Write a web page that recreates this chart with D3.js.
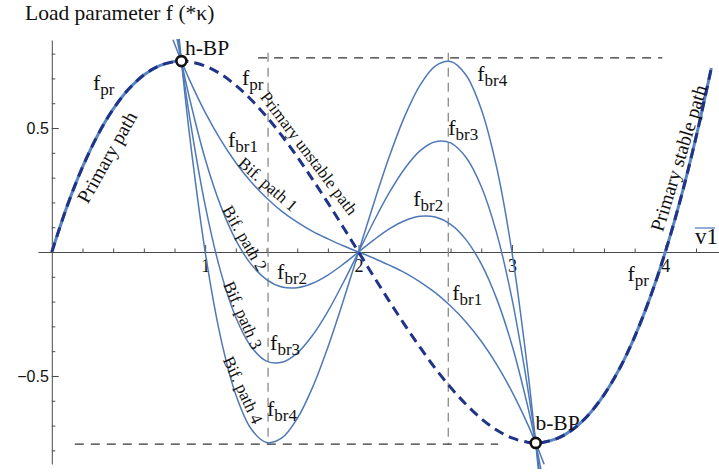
<!DOCTYPE html>
<html>
<head>
<meta charset="utf-8">
<script src="https://cdn.jsdelivr.net/npm/d3@7"></script>
<style>
  body { margin: 0; background: #fff; }
  svg { display: block; }
</style>
</head>
<body>
<svg id="chart" width="719" height="472"></svg>
<script>
// Primary equilibrium path f_pr(v1)
const primaryV = [0, 0.1, 0.2, 0.3, 0.4, 0.5, 0.6, 0.7, 0.8, 0.845, 0.9, 1.0, 1.1, 1.2, 1.3, 1.4, 1.5, 1.6, 1.7, 1.8, 1.9, 2.0,
  2.1, 2.2, 2.3, 2.4, 2.5, 2.6, 2.7, 2.8, 2.9, 3.0, 3.1, 3.155, 3.2, 3.3, 3.4, 3.5, 3.6, 3.7, 3.8, 3.9, 4.0, 4.1, 4.2, 4.3];
const primaryF = [0, 0.185, 0.342, 0.472, 0.576, 0.656, 0.714, 0.751, 0.768, 0.770, 0.767, 0.750, 0.718, 0.672, 0.614, 0.546, 0.469, 0.384, 0.293, 0.198, 0.100, 0,
  -0.100, -0.198, -0.293, -0.384, -0.469, -0.546, -0.614, -0.672, -0.718, -0.750, -0.767, -0.770, -0.768, -0.751, -0.714, -0.656, -0.576, -0.472, -0.342, -0.185, 0, 0.215, 0.462, 0.742];

// Bifurcated paths f_br1 .. f_br4, sampled on a shared v1 grid
const branchV = [0.79, 0.845, 0.9, 1.0, 1.1, 1.2, 1.3, 1.4, 1.5, 1.6, 1.7, 1.8, 1.9, 2.0,
  2.1, 2.2, 2.3, 2.4, 2.5, 2.6, 2.7, 2.8, 2.9, 3.0, 3.1, 3.155, 3.21];
const fbr1 = [0.856, 0.770, 0.691, 0.563, 0.453, 0.360, 0.282, 0.218, 0.164, 0.120, 0.083, 0.053, 0.025, 0,
  -0.025, -0.053, -0.083, -0.120, -0.164, -0.218, -0.282, -0.360, -0.453, -0.563, -0.691, -0.770, -0.856];
const fbr2 = [0.945, 0.770, 0.615, 0.375, 0.188, 0.048, -0.050, -0.111, -0.141, -0.144, -0.126, -0.093, -0.049, 0,
  0.049, 0.093, 0.126, 0.144, 0.141, 0.111, 0.050, -0.048, -0.188, -0.375, -0.615, -0.770, -0.945];
const fbr3 = [1.034, 0.770, 0.538, 0.188, -0.077, -0.264, -0.382, -0.440, -0.445, -0.408, -0.336, -0.239, -0.124, 0,
  0.124, 0.239, 0.336, 0.408, 0.445, 0.440, 0.382, 0.264, 0.077, -0.188, -0.538, -0.770, -1.034];
const fbr4 = [1.123, 0.770, 0.462, 0, -0.342, -0.576, -0.714, -0.768, -0.750, -0.672, -0.546, -0.384, -0.198, 0,
  0.198, 0.384, 0.546, 0.672, 0.750, 0.768, 0.714, 0.576, 0.342, 0, -0.462, -0.770, -1.123];

// Bifurcation points
const hBP = [0.845, 0.770];
const bBP = [3.155, -0.770];

// Dashed guide lines
const guideV = [1.41, 2.585];
const guideF = [0.783, -0.775];
const topGuideSpan = [1.345, 3.98];
const bottomGuideSpan = [0.15, 2.91];

// Axis ticks
const xMajor = [1, 2, 3, 4];
const xMinor = [0.2, 0.4, 0.6, 0.8, 1.2, 1.4, 1.6, 1.8, 2.2, 2.4, 2.6, 2.8, 3.2, 3.4, 3.6, 3.8, 4.2];
const yMajor = [-0.5, 0.5];
const yMinor = [-0.8, -0.7, -0.6, -0.4, -0.3, -0.2, -0.1, 0.1, 0.2, 0.3, 0.4, 0.6, 0.7, 0.8];

const svg = d3.select("#chart");
const W = 719, H = 472;

const x = d3.scaleLinear().domain([-0.09, 4.35]).range([38, 719]);
const y = d3.scaleLinear().domain([-0.855, 0.855]).range([464, 40]);

const SERIF = "'Liberation Serif', 'Times New Roman', serif";
const SANS = "'Liberation Sans', Arial, sans-serif";
const BLUE = "#4f79b6";
const NAVY = "#1f3488";
const AXIS = "#4a4a4a";

svg.append("defs").append("clipPath").attr("id", "plot")
  .append("rect").attr("x", 38).attr("y", 39).attr("width", W - 38).attr("height", 430);

// ---- axes ----
const xAxisG = svg.append("g").attr("transform", `translate(0,${y(0)})`);
xAxisG.call(d3.axisBottom(x).tickValues(xMajor).tickSizeInner(-7).tickSizeOuter(0).tickPadding(7).tickFormat(d3.format("d")));
const xMinorG = svg.append("g").attr("transform", `translate(0,${y(0)})`);
xMinorG.call(d3.axisBottom(x).tickValues(xMinor).tickSizeInner(-3.5).tickSizeOuter(0).tickFormat(""));
xMinorG.select(".domain").remove();

const yAxisG = svg.append("g").attr("transform", `translate(${x(0)},0)`);
yAxisG.call(d3.axisLeft(y).tickValues(yMajor).tickSizeInner(-7).tickSizeOuter(0).tickPadding(3).tickFormat(d3.format(".1f")));
const yMinorG = svg.append("g").attr("transform", `translate(${x(0)},0)`);
yMinorG.call(d3.axisLeft(y).tickValues(yMinor).tickSizeInner(-3.5).tickSizeOuter(0).tickFormat(""));
yMinorG.select(".domain").remove();

svg.selectAll(".domain, .tick line").attr("stroke", AXIS).attr("stroke-width", 1);
xAxisG.selectAll("text").attr("font-family", SERIF).attr("font-size", 18).attr("fill", "#111");
yAxisG.selectAll("text").attr("font-family", SANS).attr("font-size", 16).attr("fill", "#111");

// ---- dashed guide lines ----
const guides = svg.append("g");
guideV.forEach(v => {
  guides.append("line")
    .attr("x1", x(v)).attr("x2", x(v))
    .attr("y1", y(guideF[0]) - 5).attr("y2", y(guideF[1]))
    .attr("stroke", "#8a8a8a").attr("stroke-width", 1.3).attr("stroke-dasharray", "9,6");
});
guides.append("line")
  .attr("x1", x(topGuideSpan[0])).attr("x2", x(topGuideSpan[1]))
  .attr("y1", y(guideF[0])).attr("y2", y(guideF[0]))
  .attr("stroke", "#333").attr("stroke-width", 1.3).attr("stroke-dasharray", "9,7");
guides.append("line")
  .attr("x1", x(bottomGuideSpan[0])).attr("x2", x(bottomGuideSpan[1]))
  .attr("y1", y(guideF[1])).attr("y2", y(guideF[1]))
  .attr("stroke", "#333").attr("stroke-width", 1.3).attr("stroke-dasharray", "9,7");

// ---- curves ----
const line = d3.line().x(d => x(d[0])).y(d => y(d[1])).curve(d3.curveCatmullRom.alpha(0.5));
const plot = svg.append("g").attr("clip-path", "url(#plot)");

[fbr1, fbr2, fbr3, fbr4].forEach(vals => {
  plot.append("path")
    .datum(branchV.map((v, i) => [v, vals[i]]))
    .attr("d", line).attr("fill", "none")
    .attr("stroke", BLUE).attr("stroke-width", 1.5);
});

const primary = primaryV.map((v, i) => [v, primaryF[i]]);
const stableLeft = primary.filter(d => d[0] <= hBP[0]);
const stableRight = primary.filter(d => d[0] >= bBP[0]);
[stableLeft, stableRight].forEach(seg => {
  plot.append("path").datum(seg).attr("d", line).attr("fill", "none")
    .attr("stroke", "#5b85c2").attr("stroke-width", 3);
});
plot.append("path").datum(primary).attr("d", line).attr("fill", "none")
  .attr("stroke", NAVY).attr("stroke-width", 3).attr("stroke-dasharray", "10,6");

// bifurcation point markers
[hBP, bBP].forEach(p => {
  svg.append("circle").attr("cx", x(p[0])).attr("cy", y(p[1])).attr("r", 5)
    .attr("fill", "#fff").attr("stroke", "#111").attr("stroke-width", 2.6);
});

// ---- labels ----
const txt = svg.append("g").attr("font-family", SERIF).attr("fill", "#111");

txt.append("text").attr("x", 25).attr("y", 20).attr("font-size", 21.5)
  .text("Load parameter f (*κ)");

// subscripted function labels
const subLabels = [
  ["pr", 0.268, 0.653], ["pr", 1.240, 0.673], ["pr", 3.753, -0.117],
  ["br1", 1.149, 0.423], ["br1", 2.611, -0.194],
  ["br2", 1.469, -0.109], ["br2", 2.356, 0.185],
  ["br3", 1.423, -0.395], ["br3", 2.585, 0.472],
  ["br4", 1.403, -0.661], ["br4", 2.774, 0.690]
];
subLabels.forEach(([sub, v, f]) => {
  const t = txt.append("text").attr("x", x(v)).attr("y", y(f)).attr("font-size", 22);
  t.append("tspan").text("f");
  t.append("tspan").attr("font-size", 17).attr("dy", 5).text(sub);
});

txt.append("text").attr("x", x(0.868)).attr("y", y(0.794)).attr("font-size", 21.5).text("h-BP");
txt.append("text").attr("x", x(3.153)).attr("y", y(-0.718)).attr("font-size", 21.5).text("b-BP");

// rotated path names
const pathNames = [
  ["Primary path", 0.359, 0.383, -60.5, 19.5],
  ["Primary unstable path", 1.678, 0.399, 53, 17],
  ["Primary stable path", 4.086, 0.379, -73, 19.5],
  ["Bif. path 1", 1.410, 0.274, 41, 17],
  ["Bif. path 2", 1.260, 0.056, 60, 17],
  ["Bif. path 3", 1.247, -0.254, 66, 17],
  ["Bif. path 4", 1.247, -0.556, 65, 17]
];
pathNames.forEach(([s, v, f, a, fs]) => {
  txt.append("text")
    .attr("transform", `translate(${x(v)},${y(f)}) rotate(${a})`)
    .attr("text-anchor", "middle").attr("dy", "0.35em")
    .attr("font-size", fs).text(s);
});

// axis name v1 with overbar
txt.append("text").attr("x", 695).attr("y", 244).attr("font-size", 23).text("v1");
svg.append("line").attr("x1", 695).attr("x2", 715).attr("y1", 228).attr("y2", 228)
  .attr("stroke", "#6f93c6").attr("stroke-width", 1.5);
</script>
</body>
</html>
